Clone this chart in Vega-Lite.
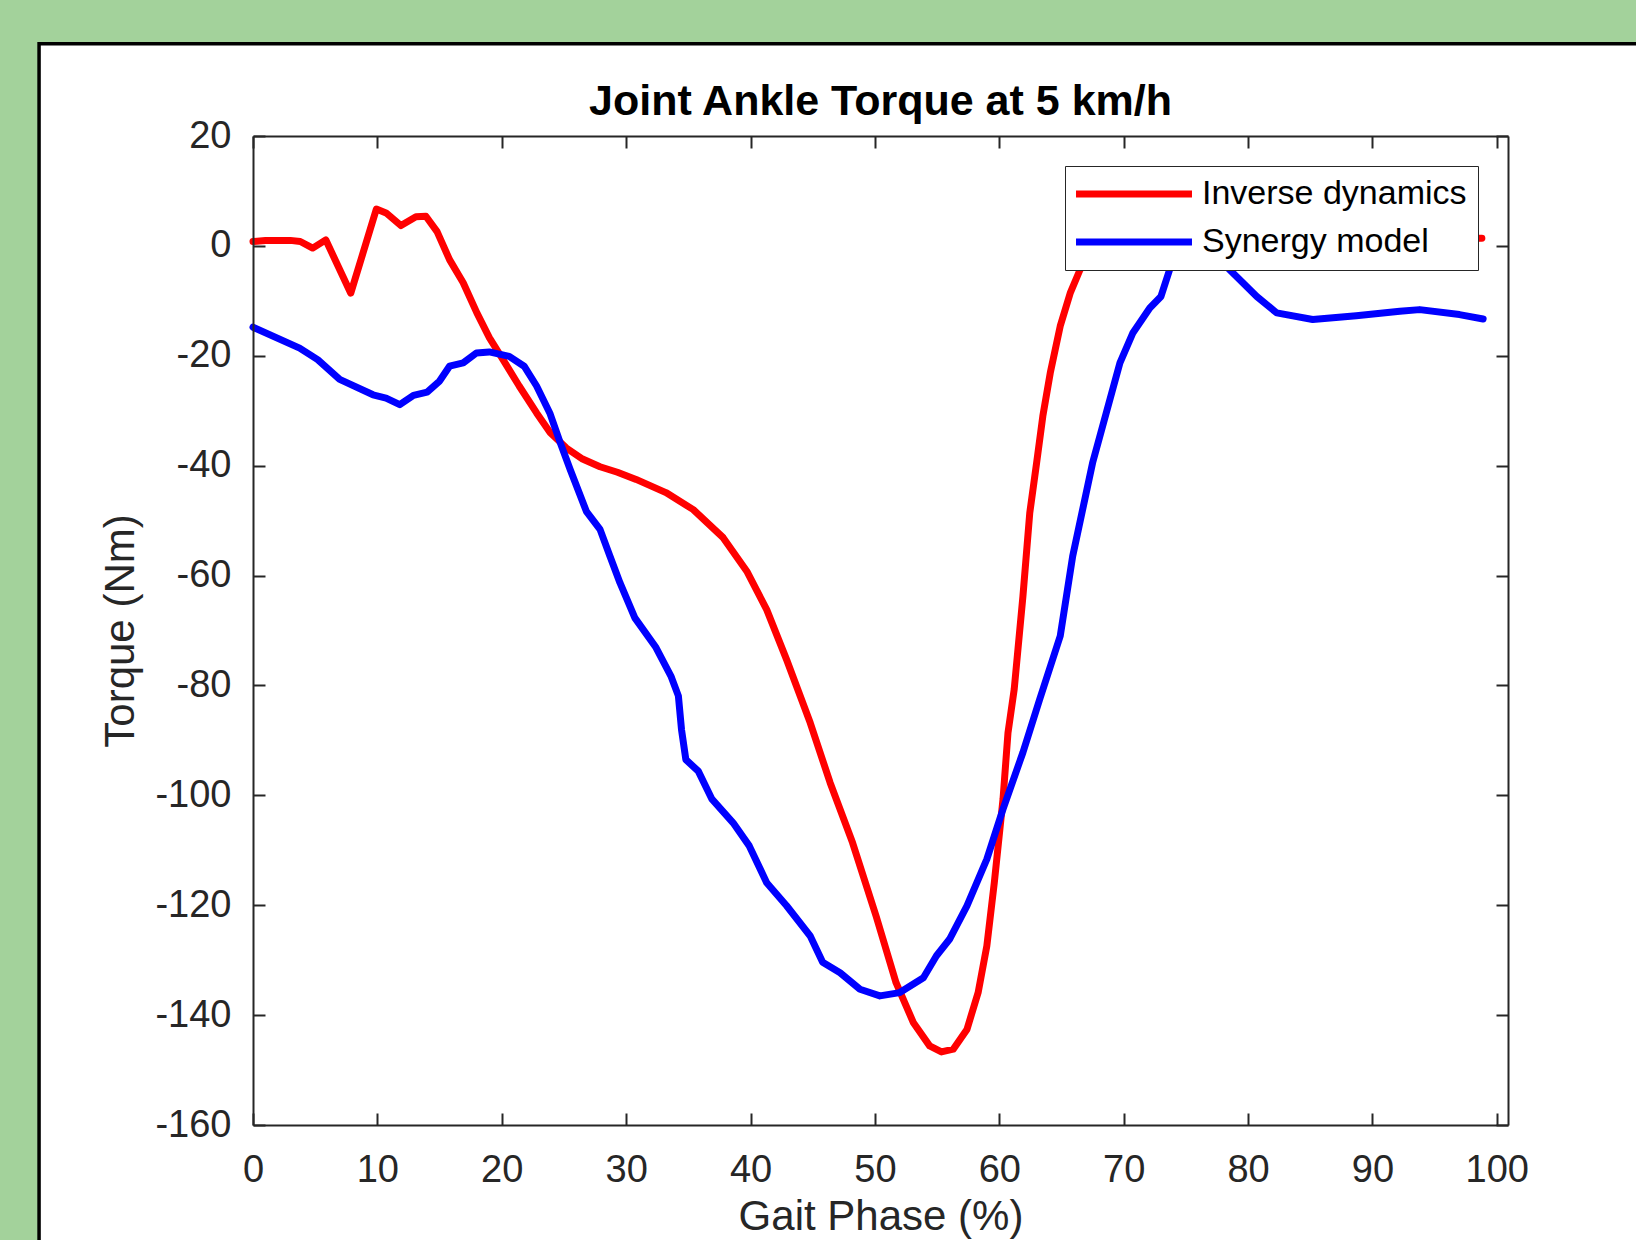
{
  "$schema": "https://vega.github.io/schema/vega-lite/v6.json",
  "autosize": {"type": "none"},
  "width": 1255,
  "height": 989,
  "padding": {"left": 253, "top": 136, "right": 128, "bottom": 115},
  "background": "#a3d29b",
  "config": {"view": {"stroke": null, "fill": "#ffffff"}, "font": "Liberation Sans"},
  "title": {"text": "Joint Ankle Torque at 5 km/h", "fontSize": 43, "fontWeight": "bold", "color": "#000000", "font": "Liberation Sans", "anchor": "middle", "frame": "group", "baseline": "alphabetic", "offset": -116, "zindex": 2},
  "datasets": {
    "torque": [
      {"phase": 0, "torque": 0.8, "series": "Inverse dynamics"},
      {"phase": 1, "torque": 1.0, "series": "Inverse dynamics"},
      {"phase": 2, "torque": 1.0, "series": "Inverse dynamics"},
      {"phase": 3, "torque": 1.0, "series": "Inverse dynamics"},
      {"phase": 3.8, "torque": 0.8, "series": "Inverse dynamics"},
      {"phase": 4.8, "torque": -0.4, "series": "Inverse dynamics"},
      {"phase": 5.85, "torque": 1.1, "series": "Inverse dynamics"},
      {"phase": 7.86, "torque": -8.6, "series": "Inverse dynamics"},
      {"phase": 9.92, "torque": 6.7, "series": "Inverse dynamics"},
      {"phase": 10.7, "torque": 6.0, "series": "Inverse dynamics"},
      {"phase": 11.9, "torque": 3.7, "series": "Inverse dynamics"},
      {"phase": 13.1, "torque": 5.3, "series": "Inverse dynamics"},
      {"phase": 13.9, "torque": 5.4, "series": "Inverse dynamics"},
      {"phase": 14.8, "torque": 2.6, "series": "Inverse dynamics"},
      {"phase": 15.8, "torque": -2.5, "series": "Inverse dynamics"},
      {"phase": 16.9, "torque": -6.7, "series": "Inverse dynamics"},
      {"phase": 18.0, "torque": -12.2, "series": "Inverse dynamics"},
      {"phase": 19.0, "torque": -16.7, "series": "Inverse dynamics"},
      {"phase": 20.1, "torque": -20.7, "series": "Inverse dynamics"},
      {"phase": 21.4, "torque": -25.5, "series": "Inverse dynamics"},
      {"phase": 22.8, "torque": -30.4, "series": "Inverse dynamics"},
      {"phase": 23.9, "torque": -34.0, "series": "Inverse dynamics"},
      {"phase": 25.2, "torque": -36.8, "series": "Inverse dynamics"},
      {"phase": 26.5, "torque": -38.8, "series": "Inverse dynamics"},
      {"phase": 27.9, "torque": -40.2, "series": "Inverse dynamics"},
      {"phase": 29.3, "torque": -41.2, "series": "Inverse dynamics"},
      {"phase": 30.8, "torque": -42.5, "series": "Inverse dynamics"},
      {"phase": 33.2, "torque": -44.9, "series": "Inverse dynamics"},
      {"phase": 35.4, "torque": -48.0, "series": "Inverse dynamics"},
      {"phase": 37.8, "torque": -53.1, "series": "Inverse dynamics"},
      {"phase": 39.7, "torque": -59.2, "series": "Inverse dynamics"},
      {"phase": 41.3, "torque": -66.2, "series": "Inverse dynamics"},
      {"phase": 42.9, "torque": -75.3, "series": "Inverse dynamics"},
      {"phase": 44.8, "torque": -86.8, "series": "Inverse dynamics"},
      {"phase": 46.4, "torque": -97.7, "series": "Inverse dynamics"},
      {"phase": 48.2, "torque": -108.6, "series": "Inverse dynamics"},
      {"phase": 50.1, "torque": -122.0, "series": "Inverse dynamics"},
      {"phase": 51.7, "torque": -134.1, "series": "Inverse dynamics"},
      {"phase": 53.1, "torque": -141.4, "series": "Inverse dynamics"},
      {"phase": 54.4, "torque": -145.6, "series": "Inverse dynamics"},
      {"phase": 55.35, "torque": -146.7, "series": "Inverse dynamics"},
      {"phase": 56.3, "torque": -146.2, "series": "Inverse dynamics"},
      {"phase": 57.4, "torque": -142.6, "series": "Inverse dynamics"},
      {"phase": 58.3, "torque": -135.9, "series": "Inverse dynamics"},
      {"phase": 59.0, "torque": -127.4, "series": "Inverse dynamics"},
      {"phase": 59.6, "torque": -115.9, "series": "Inverse dynamics"},
      {"phase": 60.3, "torque": -100.7, "series": "Inverse dynamics"},
      {"phase": 60.7, "torque": -88.6, "series": "Inverse dynamics"},
      {"phase": 61.2, "torque": -80.7, "series": "Inverse dynamics"},
      {"phase": 61.9, "torque": -63.8, "series": "Inverse dynamics"},
      {"phase": 62.45, "torque": -48.6, "series": "Inverse dynamics"},
      {"phase": 63.0, "torque": -39.5, "series": "Inverse dynamics"},
      {"phase": 63.5, "torque": -31.0, "series": "Inverse dynamics"},
      {"phase": 64.1, "torque": -23.1, "series": "Inverse dynamics"},
      {"phase": 64.9, "torque": -14.6, "series": "Inverse dynamics"},
      {"phase": 65.7, "torque": -8.6, "series": "Inverse dynamics"},
      {"phase": 66.5, "torque": -4.3, "series": "Inverse dynamics"},
      {"phase": 67.5, "torque": -1.5, "series": "Inverse dynamics"},
      {"phase": 69, "torque": 0, "series": "Inverse dynamics"},
      {"phase": 72, "torque": 0.8, "series": "Inverse dynamics"},
      {"phase": 76, "torque": 1.0, "series": "Inverse dynamics"},
      {"phase": 80, "torque": 1.0, "series": "Inverse dynamics"},
      {"phase": 85, "torque": 1.0, "series": "Inverse dynamics"},
      {"phase": 90, "torque": 1.2, "series": "Inverse dynamics"},
      {"phase": 95, "torque": 1.3, "series": "Inverse dynamics"},
      {"phase": 98.8, "torque": 1.4, "series": "Inverse dynamics"},
      {"phase": 0, "torque": -14.8, "series": "Synergy model"},
      {"phase": 3.75, "torque": -18.6, "series": "Synergy model"},
      {"phase": 5.2, "torque": -20.7, "series": "Synergy model"},
      {"phase": 6.97, "torque": -24.3, "series": "Synergy model"},
      {"phase": 9.65, "torque": -27.1, "series": "Synergy model"},
      {"phase": 10.7, "torque": -27.7, "series": "Synergy model"},
      {"phase": 11.8, "torque": -28.9, "series": "Synergy model"},
      {"phase": 12.9, "torque": -27.2, "series": "Synergy model"},
      {"phase": 14.0, "torque": -26.6, "series": "Synergy model"},
      {"phase": 15.0, "torque": -24.6, "series": "Synergy model"},
      {"phase": 15.8, "torque": -21.9, "series": "Synergy model"},
      {"phase": 16.9, "torque": -21.3, "series": "Synergy model"},
      {"phase": 17.96, "torque": -19.5, "series": "Synergy model"},
      {"phase": 19.0, "torque": -19.3, "series": "Synergy model"},
      {"phase": 20.6, "torque": -20.1, "series": "Synergy model"},
      {"phase": 21.8, "torque": -21.9, "series": "Synergy model"},
      {"phase": 22.8, "torque": -25.5, "series": "Synergy model"},
      {"phase": 23.86, "torque": -30.4, "series": "Synergy model"},
      {"phase": 24.7, "torque": -35.8, "series": "Synergy model"},
      {"phase": 25.5, "torque": -40.7, "series": "Synergy model"},
      {"phase": 26.8, "torque": -48.3, "series": "Synergy model"},
      {"phase": 27.9, "torque": -51.6, "series": "Synergy model"},
      {"phase": 28.7, "torque": -56.5, "series": "Synergy model"},
      {"phase": 29.5, "torque": -61.3, "series": "Synergy model"},
      {"phase": 30.7, "torque": -67.7, "series": "Synergy model"},
      {"phase": 32.4, "torque": -73.1, "series": "Synergy model"},
      {"phase": 33.6, "torque": -78.3, "series": "Synergy model"},
      {"phase": 34.2, "torque": -81.9, "series": "Synergy model"},
      {"phase": 34.45, "torque": -88.0, "series": "Synergy model"},
      {"phase": 34.8, "torque": -93.5, "series": "Synergy model"},
      {"phase": 35.8, "torque": -95.6, "series": "Synergy model"},
      {"phase": 36.9, "torque": -100.7, "series": "Synergy model"},
      {"phase": 38.6, "torque": -105.0, "series": "Synergy model"},
      {"phase": 39.9, "torque": -109.2, "series": "Synergy model"},
      {"phase": 41.3, "torque": -115.9, "series": "Synergy model"},
      {"phase": 42.9, "torque": -120.1, "series": "Synergy model"},
      {"phase": 44.8, "torque": -125.6, "series": "Synergy model"},
      {"phase": 45.8, "torque": -130.4, "series": "Synergy model"},
      {"phase": 47.2, "torque": -132.3, "series": "Synergy model"},
      {"phase": 48.8, "torque": -135.3, "series": "Synergy model"},
      {"phase": 50.4, "torque": -136.5, "series": "Synergy model"},
      {"phase": 52.0, "torque": -135.9, "series": "Synergy model"},
      {"phase": 53.9, "torque": -133.2, "series": "Synergy model"},
      {"phase": 54.95, "torque": -129.2, "series": "Synergy model"},
      {"phase": 56.0, "torque": -126.2, "series": "Synergy model"},
      {"phase": 57.4, "torque": -120.1, "series": "Synergy model"},
      {"phase": 59.0, "torque": -111.6, "series": "Synergy model"},
      {"phase": 60.3, "torque": -102.5, "series": "Synergy model"},
      {"phase": 61.9, "torque": -92.2, "series": "Synergy model"},
      {"phase": 63.25, "torque": -82.5, "series": "Synergy model"},
      {"phase": 64.9, "torque": -71.0, "series": "Synergy model"},
      {"phase": 65.9, "torque": -56.5, "series": "Synergy model"},
      {"phase": 67.5, "torque": -39.5, "series": "Synergy model"},
      {"phase": 68.6, "torque": -30.4, "series": "Synergy model"},
      {"phase": 69.7, "torque": -21.3, "series": "Synergy model"},
      {"phase": 70.75, "torque": -15.8, "series": "Synergy model"},
      {"phase": 72.1, "torque": -11.3, "series": "Synergy model"},
      {"phase": 73.0, "torque": -9.2, "series": "Synergy model"},
      {"phase": 73.7, "torque": -4.3, "series": "Synergy model"},
      {"phase": 74.5, "torque": 0, "series": "Synergy model"},
      {"phase": 76, "torque": 1.5, "series": "Synergy model"},
      {"phase": 77.5, "torque": 0, "series": "Synergy model"},
      {"phase": 78.5, "torque": -4.3, "series": "Synergy model"},
      {"phase": 80.7, "torque": -9.2, "series": "Synergy model"},
      {"phase": 82.3, "torque": -12.2, "series": "Synergy model"},
      {"phase": 85.2, "torque": -13.4, "series": "Synergy model"},
      {"phase": 88.7, "torque": -12.7, "series": "Synergy model"},
      {"phase": 92.2, "torque": -11.9, "series": "Synergy model"},
      {"phase": 93.8, "torque": -11.6, "series": "Synergy model"},
      {"phase": 97.0, "torque": -12.5, "series": "Synergy model"},
      {"phase": 98.9, "torque": -13.3, "series": "Synergy model"}
    ]
  },
  "data": {"name": "torque"},
  "layer": [
    {
      "data": {"values": [{}]},
      "mark": {"type": "rect", "fill": "#ffffff", "stroke": "#000000", "strokeWidth": 3.5, "clip": false},
      "encoding": {
        "x": {"datum": -17.2, "type": "quantitative", "axis": null},
        "x2": {"datum": 115},
        "y": {"datum": 36.8, "type": "quantitative", "axis": null},
        "y2": {"datum": -190}
      }
    },
    {
      "transform": [{"filter": "datum.series === 'Inverse dynamics'"}],
      "mark": {"type": "line", "strokeWidth": 7, "strokeJoin": "round", "strokeCap": "round"},
      "encoding": {
        "x": {
          "field": "phase", "type": "quantitative",
          "scale": {"domain": [0, 100.9], "nice": false, "zero": false},
          "axis": {"orient": "bottom", "title": "Gait Phase (%)", "values": [0, 10, 20, 30, 40, 50, 60, 70, 80, 90, 100], "labelExpr": "'' + datum.value", "tickSize": -12, "tickWidth": 2, "tickColor": "#262626", "domainColor": "#262626", "domainWidth": 2, "labelPadding": 38, "labelFontSize": 38, "labelColor": "#262626", "labelFont": "Liberation Sans", "labelFlush": false, "labelOverlap": false, "titleFontSize": 42, "titleFontWeight": "normal", "titleColor": "#262626", "titleFont": "Liberation Sans", "titlePadding": 7, "grid": false, "zindex": 1}
        },
        "y": {
          "field": "torque", "type": "quantitative",
          "scale": {"domain": [-160, 20], "nice": false, "zero": false},
          "axis": {"orient": "left", "title": "Torque (Nm)", "values": [-160, -140, -120, -100, -80, -60, -40, -20, 0, 20], "labelExpr": "'' + datum.value", "tickSize": -12, "tickWidth": 2, "tickColor": "#262626", "domainColor": "#262626", "domainWidth": 2, "labelPadding": 34, "labelFontSize": 38, "labelColor": "#262626", "labelFont": "Liberation Sans", "labelFlush": false, "labelOverlap": false, "titleFontSize": 42, "titleFontWeight": "normal", "titleColor": "#262626", "titleFont": "Liberation Sans", "titlePadding": 12, "grid": false, "zindex": 1}
        },
        "color": {
          "field": "series", "type": "nominal",
          "scale": {"domain": ["Inverse dynamics", "Synergy model"], "range": ["#ff0000", "#0000ff"]},
          "legend": {"orient": "top-right", "offset": 30, "title": null, "symbolType": "M-5,0H5", "symbolStrokeWidth": 7, "symbolSize": 538, "symbolOffset": 41, "labelOffset": 51, "labelLimit": 0, "labelFontSize": 34, "labelColor": "#000000", "labelFont": "Liberation Sans", "strokeColor": "#262626", "fillColor": "#ffffff", "padding": 11, "rowPadding": 14, "zindex": 2}
        }
      }
    },
    {
      "transform": [{"filter": "datum.series === 'Synergy model'"}],
      "mark": {"type": "line", "strokeWidth": 7, "strokeJoin": "round", "strokeCap": "round"},
      "encoding": {
        "x": {
          "field": "phase", "type": "quantitative",
          "axis": {"orient": "top", "title": null, "labels": false, "values": [0, 10, 20, 30, 40, 50, 60, 70, 80, 90, 100], "tickSize": -12, "tickWidth": 2, "tickColor": "#262626", "domainColor": "#262626", "domainWidth": 2, "grid": false, "zindex": 1}
        },
        "y": {
          "field": "torque", "type": "quantitative",
          "axis": {"orient": "right", "title": null, "labels": false, "values": [-160, -140, -120, -100, -80, -60, -40, -20, 0, 20], "tickSize": -12, "tickWidth": 2, "tickColor": "#262626", "domainColor": "#262626", "domainWidth": 2, "grid": false, "zindex": 1}
        },
        "color": {"field": "series", "type": "nominal"}
      }
    }
  ],
  "resolve": {"axis": {"x": "independent", "y": "independent"}}
}
